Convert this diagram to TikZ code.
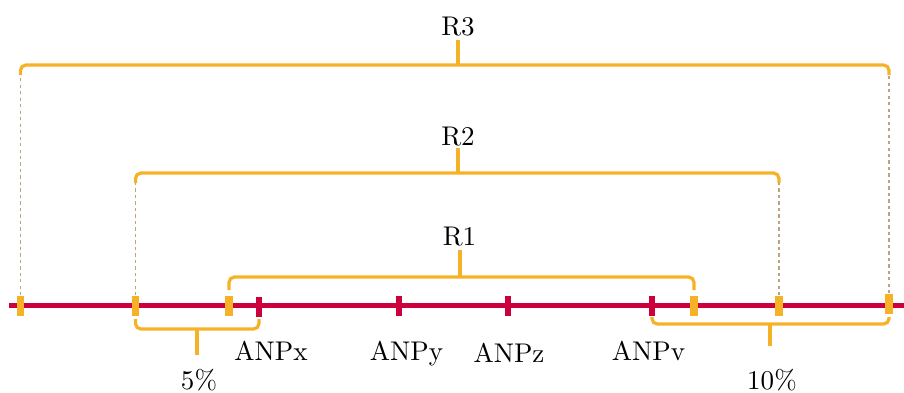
\documentclass[tikz,border=0pt]{standalone}
\usepackage{xcolor}
\usepackage{tikz}
\usetikzlibrary{positioning}

\definecolor{anpred}{RGB}{204,0,60}
\definecolor{bandorange}{RGB}{246,178,38}
\definecolor{guidetan}{RGB}{185,165,130}

\tikzset{
  axisline/.style={draw=anpred, line width=1.75pt},
  rtick/.style={fill=anpred, inner sep=0pt, minimum width=2.5pt, minimum height=7.4pt},
  otick/.style={fill=bandorange, inner sep=0pt, minimum width=2.6pt, minimum height=7.4pt},
  bracket/.style={draw=bandorange, line width=1.2pt, rounded corners=2pt},
  guide/.style={draw=guidetan, line width=0.4pt, dash pattern=on 1.2pt off 1.2pt},
  lbl/.style={anchor=base, inner sep=0pt}
}

\begin{document}
\begin{tikzpicture}[x=0.37pt, y=-0.37pt]
\useasboundingbox (0,0) rectangle (904,392);
% axis
\coordinate (axl) at (9,305.5);
\coordinate (axr) at (904,305.5);
\draw[axisline] (axl) -- (axr);
% band ticks
\node[otick] (o1) at (20.5,306) {};
\node[otick] (o2) at (135.5,306) {};
\node[otick] (o3) at (229,306) {};
\node[otick] (o4) at (694,306) {};
\node[otick] (o5) at (779,306) {};
\node[otick] (o6) at (889,304) {};
% ANP ticks
\node[rtick] (anpx) at (259,307) {};
\node[rtick] (anpy) at (399,306) {};
\node[rtick] (anpz) at (508,306) {};
\node[rtick] (anpv) at (652,306) {};
\node[lbl] (lx) at (271,360) {ANPx};
\node[lbl] (ly) at (406.5,360) {ANPy};
\node[lbl] (lz) at (509,362) {ANPz};
\node[lbl] (lv) at (648.5,360) {ANPv};
% R3
\coordinate (r3l) at (20.5,75);
\coordinate (r3r) at (889,75);
\coordinate (r3m) at (458,65);
\draw[bracket] (r3l) |- (r3m) -| (r3r);
\draw[bracket] (r3m) -- ++(0,-25);
\node[lbl] (r3) at (458,35) {R3};
\draw[guide] (o1.north) -- (r3l);
\draw[guide] (o6.north) -- (r3r);
% R2
\coordinate (r2l) at (135.5,183);
\coordinate (r2r) at (779,183);
\coordinate (r2m) at (458,173);
\draw[bracket] (r2l) |- (r2m) -| (r2r);
\draw[bracket] (r2m) -- ++(0,-25);
\node[lbl] (r2) at (458,145) {R2};
\draw[guide] (o2.north) -- (r2l);
\draw[guide] (o5.north) -- (r2r);
% R1
\coordinate (r1l) at (229,290);
\coordinate (r1r) at (694,290);
\coordinate (r1m) at (460,277);
\draw[bracket] (r1l) |- (r1m) -| (r1r);
\draw[bracket] (r1m) -- ++(0,-27);
\node[lbl] (r1) at (459.5,245) {R1};
% 5% and 10%
\coordinate (f5l) at (135.5,319);
\coordinate (f5r) at (259,319);
\coordinate (f5m) at (197,329);
\draw[bracket] (f5l) |- (f5m) -| (f5r);
\draw[bracket] (f5m) -- ++(0,26);
\node[lbl] (f5) at (199,389) {5\%};
\coordinate (t10l) at (652,317);
\coordinate (t10r) at (889,317);
\coordinate (t10m) at (770,324);
\draw[bracket] (t10l) |- (t10m) -| (t10r);
\draw[bracket] (t10m) -- ++(0,22);
\node[lbl] (t10) at (772,389) {10\%};
\end{tikzpicture}
\end{document}
